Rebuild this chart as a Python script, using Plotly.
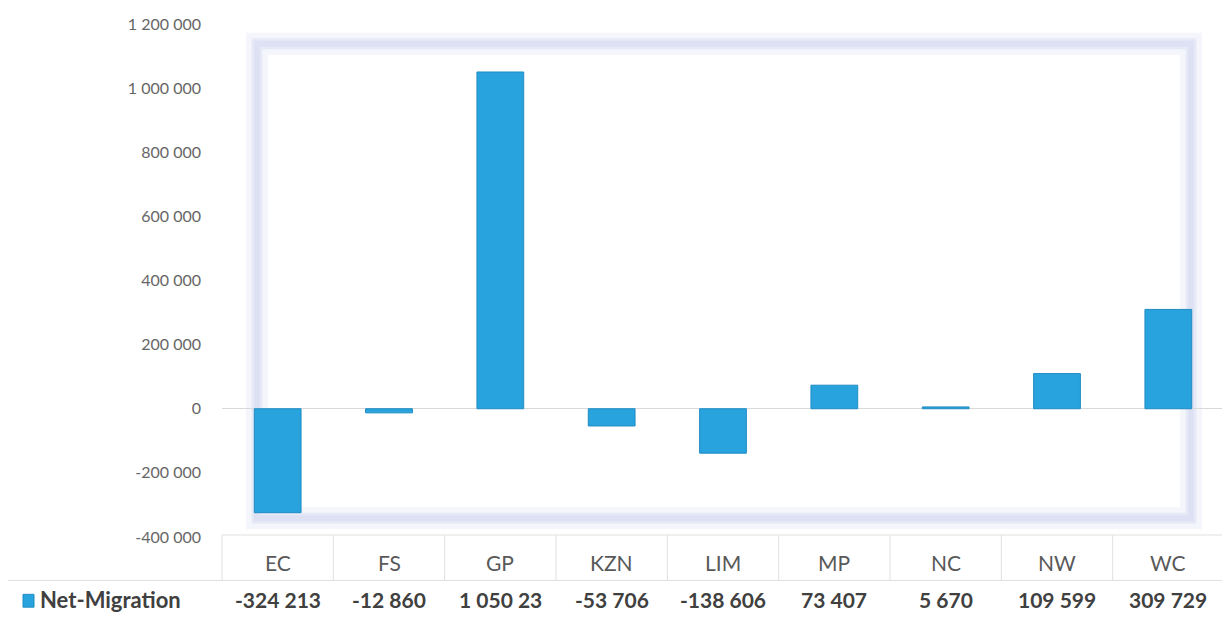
import plotly.graph_objects as go

categories = ["EC", "FS", "GP", "KZN", "LIM", "MP", "NC", "NW", "WC"]
net_migration = [-324213, -12860, 1050230, -53706, -138606, 73407, 5670, 109599, 309729]
table_labels = ["-324 213", "-12 860", "1 050 23", "-53 706", "-138 606", "73 407", "5 670", "109 599", "309 729"]
series_name = "Net-Migration"
y_tickvals = [-400000, -200000, 0, 200000, 400000, 600000, 800000, 1000000, 1200000]
y_ticktext = ["-400 000", "-200 000", "0", "200 000", "400 000", "600 000", "800 000", "1 000 000", "1 200 000"]

OFF = 8  # page body margin
W, H = 1230 - OFF, 619 - OFF
# plot area in page pixels: x 222..1224, y 17..537
L = 222 - OFF
R = W - (1224 - OFF)
T = 17 - OFF
B = H - (537 - OFF)
pw, ph = W - L - R, H - T - B

def px(x):
    return (x - OFF - L) / pw

def py(y):
    return (H - B - (y - OFF)) / ph

BAR = "#29a3de"
fig = go.Figure()
fig.add_trace(go.Bar(
    x=categories, y=net_migration, name=series_name,
    marker=dict(color=BAR, line=dict(color="#1f8cc4", width=1)),
    width=0.42, showlegend=False, hoverinfo="x+y"))

shapes = []
# soft glowing frame around inner plot area
for w, c in [(22, "#f5f6fc"), (11, "#e6e9f6"), (6, "#dde1f3")]:
    shapes.append(dict(type="rect", xref="paper", yref="paper",
                       x0=px(257), x1=px(1191), y0=py(518), y1=py(38),
                       line=dict(color=c, width=w), fillcolor="rgba(0,0,0,0)", layer="below"))
# data table grid
gl = dict(color="#e0e0e0", width=1)
shapes.append(dict(type="line", xref="paper", yref="paper", x0=px(222), x1=px(1230), y0=py(535), y1=py(535), line=gl))
shapes.append(dict(type="line", xref="paper", yref="paper", x0=px(0), x1=px(1230), y0=py(581), y1=py(581), line=gl))
for k in range(len(categories) + 1):
    xx = k / len(categories)
    shapes.append(dict(type="line", xref="paper", yref="paper", x0=xx, x1=xx, y0=py(535), y1=py(581), line=gl))
# legend key square
shapes.append(dict(type="rect", xref="paper", yref="paper", x0=px(23), x1=px(34), y0=py(608), y1=py(595),
                   fillcolor=BAR, line=dict(color="#1f8cc4", width=1)))

annotations = []
for c, lab in zip(categories, table_labels):
    annotations.append(dict(x=c, xref="x", y=py(563), yref="paper", text=c, showarrow=False,
                            font=dict(family="Lato", size=21, color="#595959"), yanchor="middle"))
    annotations.append(dict(x=c, xref="x", y=py(600), yref="paper", text="<b>" + lab + "</b>", showarrow=False,
                            font=dict(family="Lato", size=21, color="#404040"), yanchor="middle"))
annotations.append(dict(x=px(38), xref="paper", y=py(600), yref="paper", text="<b>" + series_name + "</b>",
                        showarrow=False, xanchor="left", yanchor="middle",
                        font=dict(family="Lato", size=22, color="#404040")))

fig.update_layout(
    width=W, height=H, margin=dict(l=L, r=R, t=T, b=B),
    paper_bgcolor="white", plot_bgcolor="white",
    xaxis=dict(range=[-0.5, len(categories) - 0.5], showticklabels=False, showgrid=False,
               zeroline=False, showline=False, ticks=""),
    yaxis=dict(range=[-400000, 1203000], tickvals=y_tickvals, ticktext=y_ticktext,
               showgrid=False, zeroline=True, zerolinecolor="#d9d9d9", zerolinewidth=1,
               showline=False, ticks="", ticklabelstandoff=20, ticklabeloverflow="allow",
               tickfont=dict(family="Lato", size=16, color="#666666")),
    shapes=shapes, annotations=annotations,
)
fig.write_html("out.html")
